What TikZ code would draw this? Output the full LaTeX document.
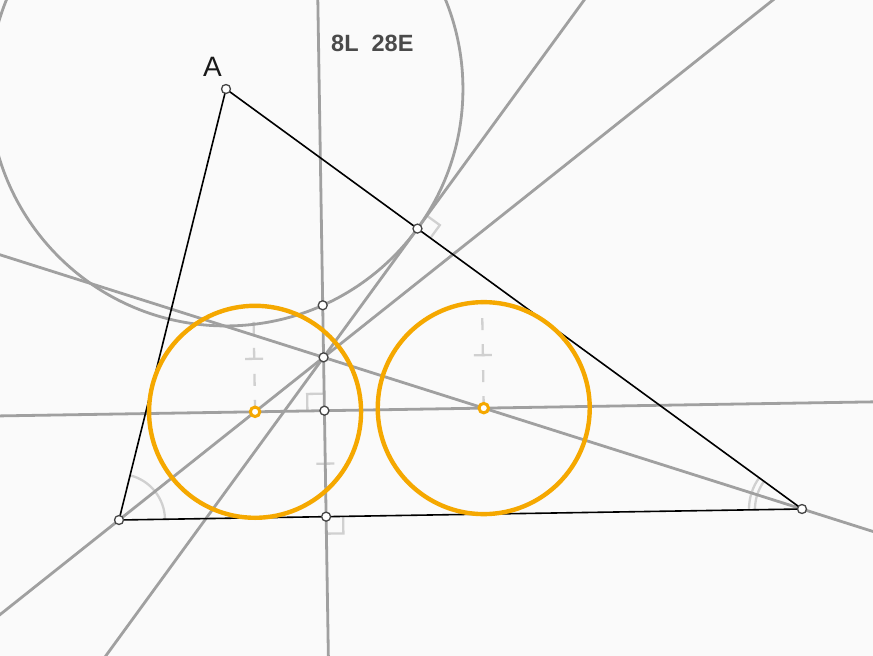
\documentclass[tikz,border=0pt]{standalone}
\usepackage{fontspec}
\setmainfont{Liberation Sans}
\usetikzlibrary{calc}
\definecolor{bgc}{HTML}{FAFAFA}
\definecolor{lgray}{HTML}{A0A0A0}
\definecolor{mgray}{HTML}{D0D0D0}
\definecolor{orng}{HTML}{F5A800}
\definecolor{pdark}{HTML}{454545}
\definecolor{txtc}{HTML}{4A4A4A}
\begin{document}
\begin{tikzpicture}[x=1pt,y=-1pt,
  gline/.style={draw=lgray,line width=2.8pt},
  tri/.style={draw=black,line width=1.6pt},
  ocirc/.style={draw=orng,line width=4.4pt},
  markl/.style={draw=mgray,line width=2.3pt},
  pt/.style={circle,draw=pdark,fill=white,line width=1.3pt,inner sep=0pt,minimum size=9pt},
  opt/.style={circle,draw=orng,fill=white,line width=3pt,inner sep=0pt,minimum size=9.5pt},
  ext/.style={shorten <=-1200pt,shorten >=-1200pt}]
\useasboundingbox (0,0) rectangle (873,656);
\fill[bgc] (0,0) rectangle (873,656);
% geometry
\coordinate (A) at (226,89);
\coordinate (B) at (119,520);
\coordinate (C) at (802,509);
\coordinate (I) at (323.56,357.34);
\coordinate (T) at (417.46,228.61);
\coordinate (F) at (326.12,516.66);
\coordinate (Q) at (324.41,410.67);
\coordinate (P) at (322.72,305.29);
\coordinate (O1) at (255.07,411.80);
\coordinate (O2) at (483.74,408.12);
\coordinate (D1) at (253.36,305.81);
\coordinate (D2) at (482.03,302.13);
\coordinate (M1) at (254.22,358.81);
\coordinate (M2) at (482.89,355.13);
\coordinate (M3) at (325.27,463.67);
\begin{scope}
\clip (0,0) rectangle (873,656);
% marks
\draw[markl] ([shift={(-76.06:46)}]B) arc[start angle=-76.06,end angle=-0.92,radius=46];
\draw[markl] ([shift={(179.08:47)}]C) arc[start angle=179.08,end angle=216.1,radius=47];
\draw[markl] ([shift={(179.08:53)}]C) arc[start angle=179.08,end angle=216.1,radius=53];
\draw[markl] (430.39,238.04) -- (439.82,225.11) -- (426.89,215.68);
\draw[markl] (307.41,410.94) -- (307.14,393.94) -- (324.14,393.67);
\draw[markl] (343.12,516.39) -- (343.39,533.39) -- (326.39,533.66);
\draw[markl,dash pattern=on 12pt off 14pt] (O1) -- (D1);
\draw[markl,dash pattern=on 12pt off 14pt] (O2) -- (D2);
\draw[markl] ($(M1)+(-9,0.145)$) -- ($(M1)+(9,-0.145)$);
\draw[markl] ($(M2)+(-9,0.145)$) -- ($(M2)+(9,-0.145)$);
\draw[markl] ($(M3)+(-9,0.145)$) -- ($(M3)+(9,-0.145)$);
% gray construction lines
\draw[gline,ext] (B) -- (I);
\draw[gline,ext] (C) -- (I);
\draw[gline,ext] (T) -- (I);
\draw[gline,ext] (I) -- (F);
\draw[gline,ext] (O1) -- (O2);
\draw[gline] (A) circle[radius=236.93];
% triangle
\draw[tri] (A) -- (B) -- (C) -- cycle;
% orange circles
\draw[ocirc] (O1) circle[radius=106];
\draw[ocirc] (O2) circle[radius=106];
\end{scope}
% points
\node[pt] (pA) at (A) {};
\node[pt] (pB) at (B) {};
\node[pt] (pC) at (C) {};
\node[pt] (pT) at (T) {};
\node[pt] (pP) at (P) {};
\node[pt] (pI) at (I) {};
\node[pt] (pQ) at (Q) {};
\node[pt] (pF) at (F) {};
\node[opt] (pO1) at (O1) {};
\node[opt] (pO2) at (O2) {};
% labels
\node[font=\fontsize{28}{28}\selectfont,text=black!90,anchor=base,inner sep=0pt] (lblA) at (212.5,76) {A};
\node[font=\fontsize{23.5}{24}\selectfont\bfseries,text=txtc,anchor=base west,inner sep=0pt] (info) at (331,51) {8L\ \ 28E};
\end{tikzpicture}
\end{document}
